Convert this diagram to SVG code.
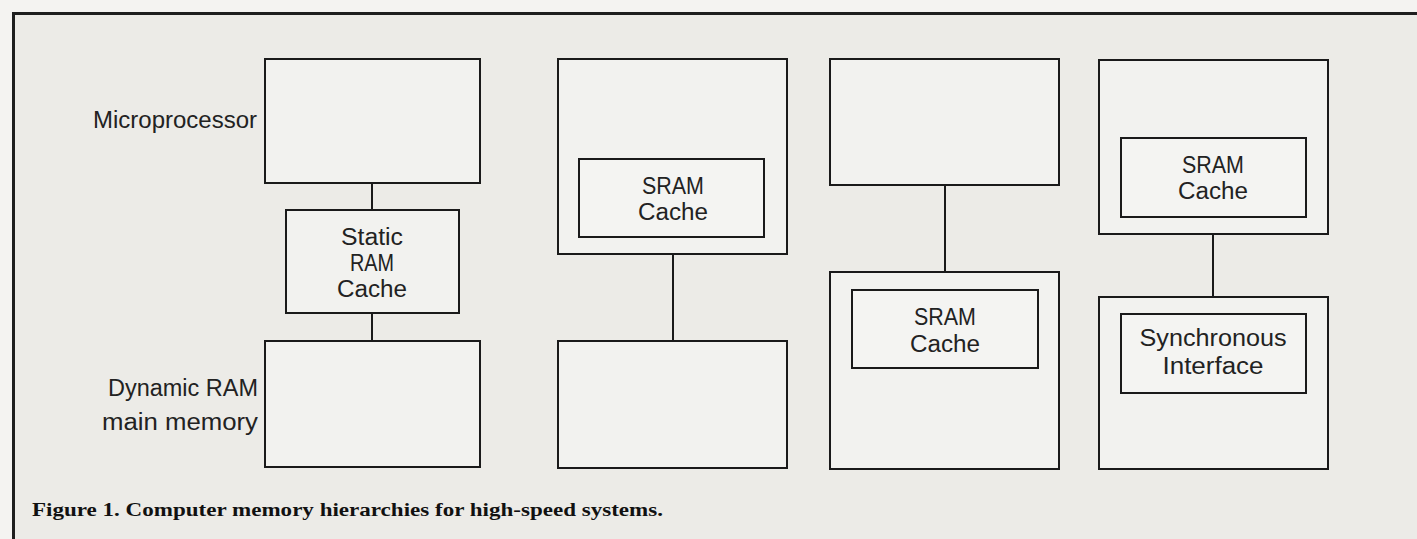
<svg xmlns="http://www.w3.org/2000/svg" width="1417" height="539" viewBox="0 0 1417 539">
<style>
.bg{fill:#ecebe7}
.frame{fill:none;stroke:#1e1e1e;stroke-width:3}
.box{fill:#f2f2ef;stroke:#1a1a1a;stroke-width:2}
.inner{fill:#f4f4f2;stroke:#1a1a1a;stroke-width:2}
.wire{stroke:#1a1a1a;stroke-width:2;fill:none}
.lbl{font-family:"Liberation Sans",Arial,sans-serif;font-size:23px;fill:#222}
.c{text-anchor:middle}
.r{text-anchor:end}
.cap{font-family:"Liberation Serif","Times New Roman",serif;font-size:18px;font-weight:bold;fill:#111}
</style>
<rect x="0" y="0" width="1417" height="539" fill="#f4f3f1"/>
<rect class="bg" x="13" y="13" width="1404" height="526"/>
<path class="frame" d="M13.5,539 V13.5 H1417"/>

<g id="connectors">
<line class="wire" x1="372" y1="183" x2="372" y2="210"/>
<line class="wire" x1="372" y1="313" x2="372" y2="341"/>
<line class="wire" x1="673" y1="254" x2="673" y2="341"/>
<line class="wire" x1="945" y1="185" x2="945" y2="272"/>
<line class="wire" x1="1213" y1="234" x2="1213" y2="297"/>
</g>

<g id="microprocessor">
<rect class="box" x="265" y="59" width="215" height="124"/>
<text class="lbl r" x="257" y="128" textLength="164" lengthAdjust="spacingAndGlyphs">Microprocessor</text>
</g>
<g id="static-ram-cache">
<rect class="box" x="286" y="210" width="173" height="103"/>
<text class="lbl c" x="372" y="245" textLength="62" lengthAdjust="spacingAndGlyphs">Static</text>
<text class="lbl c" x="372" y="271" textLength="44" lengthAdjust="spacingAndGlyphs">RAM</text>
<text class="lbl c" x="372" y="297" textLength="70" lengthAdjust="spacingAndGlyphs">Cache</text>
</g>
<g id="dram-main-memory">
<rect class="box" x="265" y="341" width="215" height="126"/>
<text class="lbl r" x="258" y="396" textLength="150" lengthAdjust="spacingAndGlyphs">Dynamic  RAM</text>
<text class="lbl r" x="258" y="430" textLength="156" lengthAdjust="spacingAndGlyphs">main  memory</text>
</g>

<g id="cpu-with-sram">
<rect class="box" x="558" y="59" width="229" height="195"/>
</g>
<g id="sram-cache-2">
<rect class="inner" x="579" y="159" width="185" height="78"/>
<text class="lbl c" x="673" y="194" textLength="62" lengthAdjust="spacingAndGlyphs">SRAM</text>
<text class="lbl c" x="673" y="220" textLength="70" lengthAdjust="spacingAndGlyphs">Cache</text>
</g>
<g id="memory-2">
<rect class="box" x="558" y="341" width="229" height="127"/>
</g>

<g id="cpu-3">
<rect class="box" x="830" y="59" width="229" height="126"/>
</g>
<g id="memory-with-sram-3">
<rect class="box" x="830" y="272" width="229" height="197"/>
</g>
<g id="sram-cache-3">
<rect class="inner" x="852" y="290" width="186" height="78"/>
<text class="lbl c" x="945" y="325" textLength="62" lengthAdjust="spacingAndGlyphs">SRAM</text>
<text class="lbl c" x="945" y="352" textLength="70" lengthAdjust="spacingAndGlyphs">Cache</text>
</g>

<g id="cpu-with-sram-4">
<rect class="box" x="1099" y="60" width="229" height="174"/>
</g>
<g id="sram-cache-4">
<rect class="inner" x="1121" y="138" width="185" height="79"/>
<text class="lbl c" x="1213" y="173" textLength="62" lengthAdjust="spacingAndGlyphs">SRAM</text>
<text class="lbl c" x="1213" y="199" textLength="70" lengthAdjust="spacingAndGlyphs">Cache</text>
</g>
<g id="memory-with-sync-4">
<rect class="box" x="1099" y="297" width="229" height="172"/>
</g>
<g id="synchronous-interface">
<rect class="inner" x="1121" y="314" width="185" height="79"/>
<text class="lbl c" x="1213" y="346" textLength="147" lengthAdjust="spacingAndGlyphs">Synchronous</text>
<text class="lbl c" x="1213" y="374" textLength="101" lengthAdjust="spacingAndGlyphs">Interface</text>
</g>

<text class="cap" x="32" y="516" textLength="631" lengthAdjust="spacingAndGlyphs">Figure 1. Computer memory hierarchies for high-speed systems.</text>
</svg>
